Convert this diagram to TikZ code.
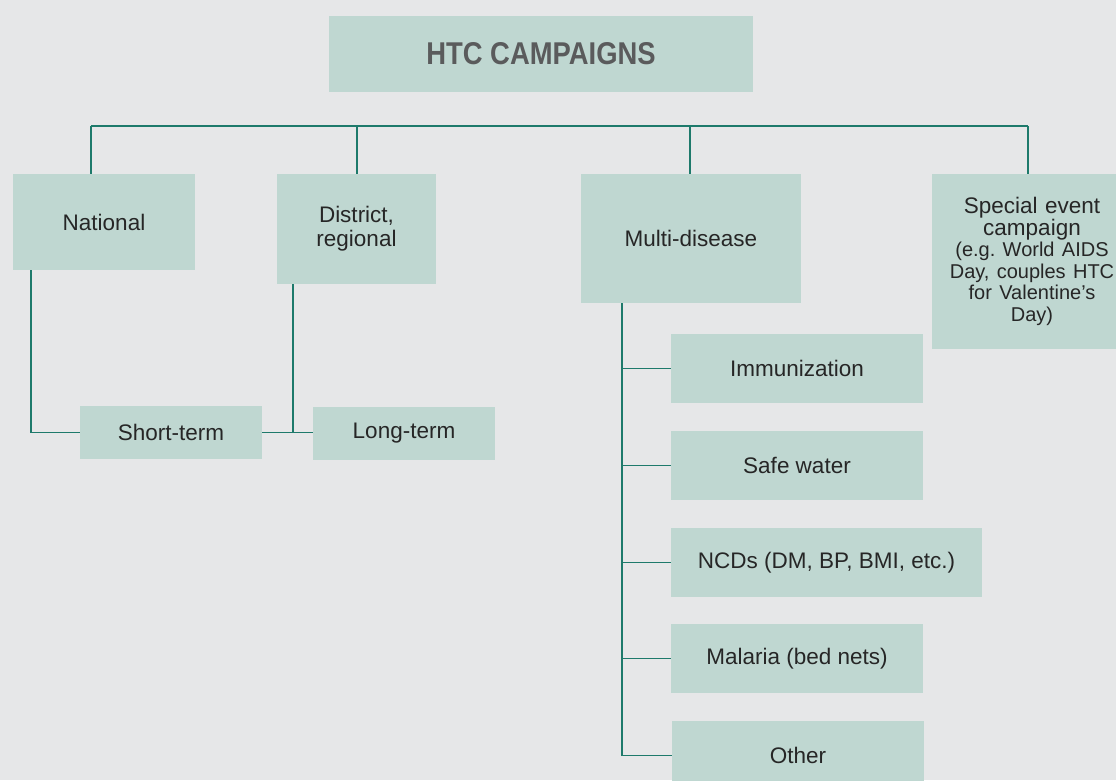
\documentclass[tikz,border=0pt]{standalone}
\usepackage{fontspec}
\usepackage{graphicx}
\setmainfont{Liberation Sans}
\frenchspacing
\definecolor{bgcol}{HTML}{E6E7E8}
\definecolor{boxcol}{HTML}{BFD7D1}
\definecolor{linecol}{HTML}{1E7A6B}
\definecolor{txtcol}{HTML}{262626}
\definecolor{titlecol}{HTML}{5A5B5C}
\tikzset{
  box/.style={fill=boxcol, draw=none, inner sep=0pt, outer sep=0pt, align=center,
    text=txtcol, font=\fontsize{22.5}{24}\selectfont},
  conn/.style={draw=linecol, line width=1.3pt},
}
\begin{document}
\begin{tikzpicture}[x=1pt,y=-1pt]
\useasboundingbox (0,0) rectangle (1116,780);
\fill[bgcol] (0,0) rectangle (1116,780);

% nodes
\node[box, minimum width=424pt, minimum height=76pt, text=titlecol,
  font=\fontsize{31.5}{31.5}\selectfont\bfseries] (title) at (541,54) {\scalebox{0.87}[1]{HTC CAMPAIGNS}};
\node[box, minimum width=182pt, minimum height=96pt] (national) at (104,222) {National};
\node[box, minimum width=159pt, minimum height=110pt] (district) at (356.5,229) {District,\\regional};
\node[box, minimum width=182pt, minimum height=53pt] (short) at (171,432.5) {Short-term};
\node[box, minimum width=182pt, minimum height=53pt] (long) at (404,433.5) {Long-term};
\node[box, minimum width=220pt, minimum height=129pt] (multi) at (691,238.5) {Multi-disease};
\node[box, minimum width=200pt, minimum height=175pt, text width=196pt, font=\fontsize{22}{21.5}\selectfont] (special) at (1032,261.5)
  {\fontsize{22.5}{21.5}\selectfont Special event\\campaign\\\fontsize{20}{21.5}\selectfont(e.g. World AIDS\\Day, couples HTC\\for Valentine's\\Day)};
\node[box, minimum width=252pt, minimum height=69pt] (immun) at (797,368.5) {Immunization};
\node[box, minimum width=252pt, minimum height=69pt] (safe) at (797,465.5) {Safe water};
\node[box, minimum width=311pt, minimum height=69pt] (ncd) at (826.5,562.5) {NCDs (DM, BP, BMI, etc.)};
\node[box, minimum width=252pt, minimum height=69pt] (malaria) at (797,658.5) {Malaria (bed nets)};
\node[box, minimum width=252pt, minimum height=69pt] (other) at (798,755.5) {Other};

% helper coordinates
\coordinate (busL) at (91,126);
\coordinate (busR) at (1028,126);
\coordinate (dX) at (357,0);
\coordinate (mX) at (690,0);
\coordinate (nX) at (31,0);
\coordinate (rX) at (293,0);
\coordinate (vX) at (622,0);

% bus
\draw[conn] (busL) -- (busR);
\draw[conn] (busL) -- (busL |- national.north);
\draw[conn] (dX |- busL) -- (dX |- district.north);
\draw[conn] (mX |- busL) -- (mX |- multi.north);
\draw[conn] (busR) -- (busR |- special.north);

% national / district
\draw[conn] (nX |- national.south) |- (short.west);
\draw[conn] (short.east) -- (short.east -| long.west);
\draw[conn] (rX |- district.south) -- (rX |- short.east);

% multi-disease tree
\draw[conn] (vX |- multi.south) -- (vX |- other.west);
\draw[conn] (vX |- immun.west) -- (immun.west);
\draw[conn] (vX |- safe.west) -- (safe.west);
\draw[conn] (vX |- ncd.west) -- (ncd.west);
\draw[conn] (vX |- malaria.west) -- (malaria.west);
\draw[conn] (vX |- other.west) -- (other.west);
\end{tikzpicture}
\end{document}
